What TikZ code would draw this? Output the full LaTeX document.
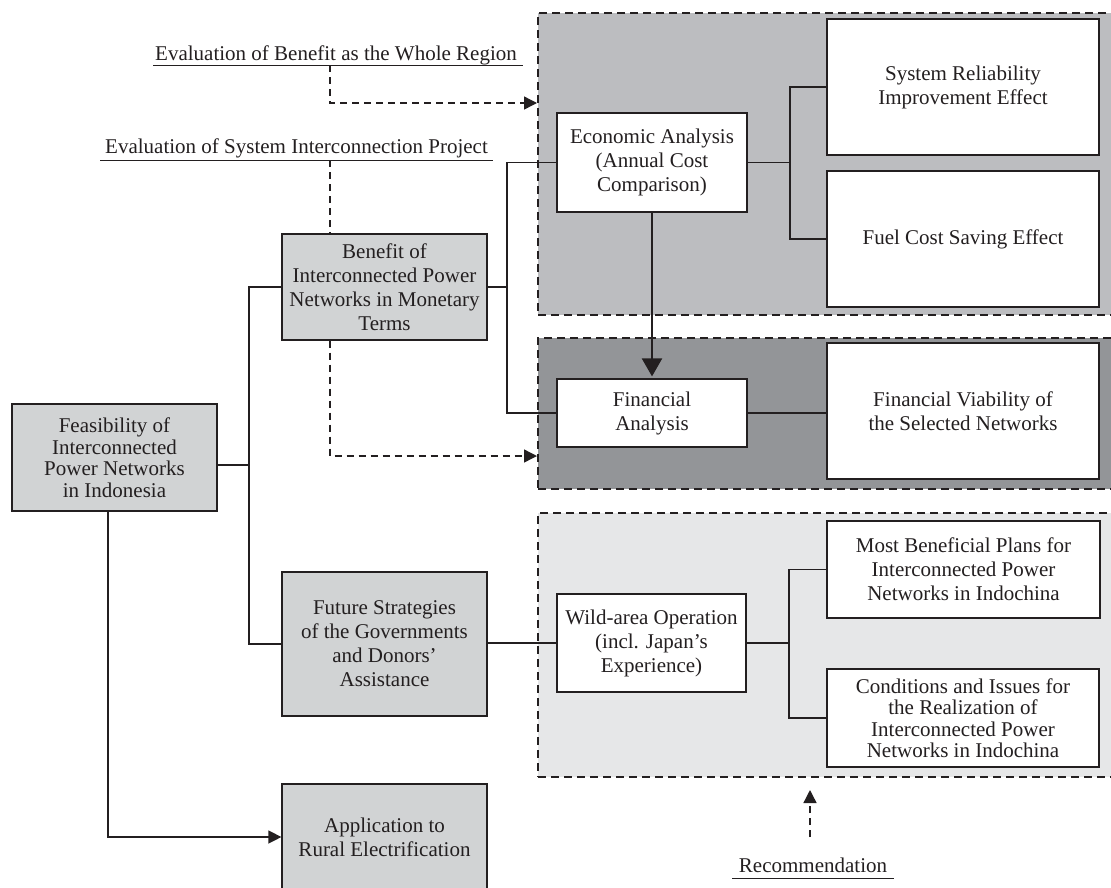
\documentclass[tikz,border=0pt]{standalone}
\usepackage{fontspec}
\setmainfont{Liberation Serif}
\usetikzlibrary{arrows.meta}
\definecolor{regA}{HTML}{BCBDC0}
\definecolor{regB}{HTML}{939598}
\definecolor{regC}{HTML}{E6E7E8}
\definecolor{lgray}{HTML}{D1D3D4}
\definecolor{ink}{HTML}{231F20}
\begin{document}
\begin{tikzpicture}[x=1pt,y=-1pt,
  txt/.style={font=\fontsize{21}{24}\selectfont, text=ink},
  tighttxt/.style={font=\fontsize{21}{21.5}\selectfont},
  box/.style={draw=ink, line width=1.2pt, inner sep=0pt, align=center, txt},
  wbox/.style={box, fill=white},
  gbox/.style={box, fill=lgray},
  region/.style={draw=ink, line width=2pt, dash pattern=on 8pt off 5pt, inner sep=0pt, anchor=north west},
  conn/.style={draw=ink, line width=1.3pt},
  dconn/.style={conn, line width=1.4pt, dash pattern=on 7pt off 5pt},
  tipA/.style={-{Triangle[length=13pt,width=13pt]}},
  bigtip/.style={-{Triangle[length=18pt,width=20pt]}, line width=2.2pt, draw=ink},
  lab/.style={txt, inner sep=0pt, anchor=base},
  uline/.style={draw=ink, line width=1pt}
]
\useasboundingbox (0,0) rectangle (1111,887);
\clip (0,0) rectangle (1111,887);

% regions
\node[region, fill=regA, minimum width=575pt, minimum height=302pt] (A) at (537,12) {};
\node[region, fill=regB, minimum width=575pt, minimum height=151pt] (B) at (537,337) {};
\node[region, fill=regC, minimum width=575pt, minimum height=264pt] (C) at (537,512) {};

% boxes
\node[gbox, tighttxt, minimum width=205pt, minimum height=107pt] (feas) at (114.5,457.5) {Feasibility of\\Interconnected\\Power Networks\\in Indonesia};
\node[gbox, minimum width=205pt, minimum height=106pt] (ben) at (384.5,287) {Benefit of\\Interconnected Power\\Networks in Monetary\\Terms};
\node[gbox, minimum width=205pt, minimum height=144pt] (fut) at (384.5,644) {Future Strategies\\of the Governments\\and Donors’\\Assistance};
\node[gbox, minimum width=205pt, minimum height=106pt] (app) at (384.5,837) {Application to\\Rural Electrification};

\node[wbox, minimum width=190pt, minimum height=99pt] (eco) at (652,162.5) {Economic Analysis\\(Annual Cost\\Comparison)};
\node[wbox, minimum width=190pt, minimum height=68pt] (fin) at (652,413) {Financial\\Analysis};
\node[wbox, minimum width=189pt, minimum height=98pt] (wild) at (651.5,643) {Wild-area Operation\\(incl. Japan’s\\Experience)};

\node[wbox, minimum width=272pt, minimum height=136pt] (sys) at (963,87) {System Reliability\\Improvement Effect};
\node[wbox, minimum width=272pt, minimum height=136pt] (fuel) at (963,239) {Fuel Cost Saving Effect};
\node[wbox, minimum width=272pt, minimum height=136pt] (finv) at (963,411) {Financial Viability of\\the Selected Networks};
\node[wbox, minimum width=273pt, minimum height=97pt] (most) at (963.5,569.5) {Most Beneficial Plans for\\Interconnected Power\\Networks in Indochina};
\node[wbox, tighttxt, minimum width=272pt, minimum height=98pt] (cond) at (963,718) {Conditions and Issues for\\the Realization of\\Interconnected Power\\Networks in Indochina};

% labels
\node[lab] (l1) at (336,60) {Evaluation of Benefit as the Whole Region};
\node[lab] (l2) at (296.5,153) {Evaluation of System Interconnection Project};
\node[lab] (rec) at (813,872) {Recommendation};
\coordinate (u1a) at (153,65); \coordinate (u1b) at (523,65);
\coordinate (u2a) at (100,160); \coordinate (u2b) at (493,160);
\coordinate (u3a) at (732,878); \coordinate (u3b) at (894,878);
\draw[uline] (u1a) -- (u1b);
\draw[uline] (u2a) -- (u2b);
\draw[uline] (u3a) -- (u3b);

% junction coordinates
\coordinate (j1) at (249,465);
\coordinate (j2) at (507,0);
\coordinate (j3) at (790,0);
\coordinate (j4) at (789,0);
\coordinate (j5) at (108,0);
\coordinate (dx) at (330,0);

% solid connectors
\draw[conn] (feas.east |- j1) -- (j1);
\draw[conn] (ben.west) -- (ben.west -| j1) -- (fut.west -| j1) -- (fut.west);
\draw[conn] (ben.east) -- (ben.east -| j2);
\draw[conn] (eco.west) -- (eco.west -| j2) -- (fin.west -| j2) -- (fin.west);
\draw[conn] (eco.east) -- (eco.east -| j3);
\draw[conn] (sys.west) -- (sys.west -| j3) -- (fuel.west -| j3) -- (fuel.west);
\draw[conn] (fin.east) -- (fin.east -| finv.west);
\draw[conn] (wild.west -| fut.east) -- (wild.west);
\draw[conn] (wild.east) -- (wild.east -| j4);
\draw[conn] (most.west) -- (most.west -| j4) -- (cond.west -| j4) -- (cond.west);
\draw[conn, tipA] (feas.south -| j5) |- (app.west);
\draw[bigtip, shorten >=2pt] (eco.south) -- (fin.north);

% dashed connectors
\coordinate (d1) at (330,103);
\coordinate (d2) at (330,456);
\coordinate (r1) at (810,837);
\coordinate (r2) at (810,790);
\draw[dconn, tipA] (u1a -| dx) -- (d1) -- (d1 -| A.west);
\draw[dconn] (u2a -| dx) -- (ben.north -| dx);
\draw[dconn, tipA] (ben.south -| dx) -- (d2) -- (d2 -| B.west);
\draw[dconn, tipA] (r1) -- (r2);
\end{tikzpicture}
\end{document}
